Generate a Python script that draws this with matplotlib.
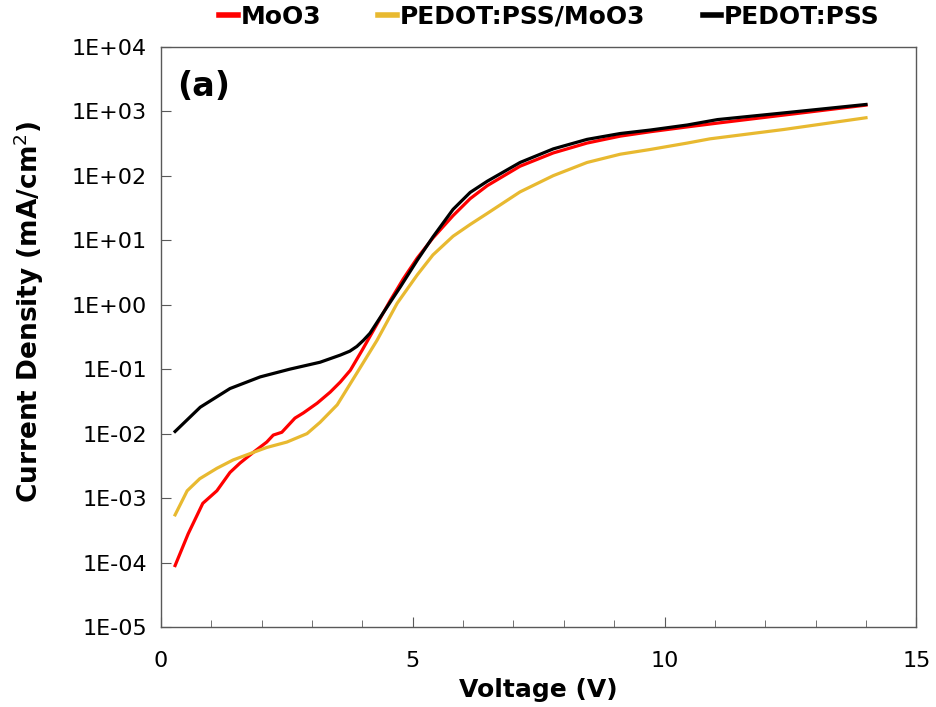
import numpy as np
import matplotlib
matplotlib.use('Agg')
import matplotlib.pyplot as plt

plt.rcParams['font.family'] = ['DejaVu Sans']

# MoO3
v_moo3 = [0.28, 0.54, 0.83, 1.11, 1.37, 1.57, 1.83, 2.1, 2.23, 2.4, 2.66, 2.83, 3.1, 3.36,
          3.56, 3.76, 4.0, 4.29, 4.55, 4.81, 5.09, 5.4, 5.8, 6.14, 6.48, 7.13, 7.79, 8.46,
          9.12, 9.72, 10.45, 11.1, 12.37, 14.0]
j_moo3 = [9e-5, 2.8e-4, 8.3e-4, 1.3e-3, 2.5e-3, 3.5e-3, 5.1e-3, 7.4e-3, 9.5e-3, 1.05e-2, 1.74e-2,
          2.1e-2, 2.96e-2, 4.4e-2, 6.3e-2, 9.6e-2, 0.2, 0.5, 1.15, 2.5, 5.3, 10.8, 24, 44, 70,
          140, 225, 320, 410, 480, 570, 660, 870, 1240]

# PEDOT:PSS/MoO3
v_pm = [0.28, 0.52, 0.77, 1.11, 1.43, 1.77, 2.1, 2.5, 2.9, 3.16, 3.5, 3.89, 4.29, 4.69,
        5.09, 5.4, 5.8, 6.14, 6.48, 7.13, 7.79, 8.46, 9.12, 9.72, 10.45, 10.9, 12.37, 14.0]
j_pm = [5.5e-4, 1.3e-3, 2.0e-3, 2.9e-3, 3.9e-3, 4.9e-3, 6.1e-3, 7.4e-3, 1.0e-2, 1.5e-2, 2.8e-2,
        8.7e-2, 0.28, 1.05, 2.9, 5.9, 11.5, 17.5, 26, 56, 100, 160, 215, 255, 320, 372, 520,
        790]

# PEDOT:PSS
v_p = [0.28, 0.78, 1.37, 1.97, 2.56, 3.16, 3.56, 3.75, 3.89, 4.02, 4.15, 4.41, 4.75, 5.09,
       5.4, 5.8, 6.14, 6.48, 7.13, 7.79, 8.46, 9.12, 9.72, 10.45, 11.05, 12.37, 14.0]
j_p = [0.0108, 0.0257, 0.050, 0.0758, 0.100, 0.128, 0.165, 0.19, 0.225, 0.28, 0.36, 0.74,
       1.87, 4.9, 11.2, 30, 55, 82, 160, 260, 365, 450, 510, 610, 740, 940, 1270]

ytick_vals = [1e-5, 1e-4, 1e-3, 1e-2, 1e-1, 1e0, 1e1, 1e2, 1e3, 1e4]
ytick_labels = ['1E-05', '1E-04', '1E-03', '1E-02', '1E-01', '1E+00', '1E+01', '1E+02',
                '1E+03', '1E+04']

fig = plt.figure(figsize=(9.36, 7.07), dpi=100)
ax = fig.add_axes([0.172, 0.113, 0.807, 0.821])

ax.plot(v_moo3, j_moo3, color='#ff0000', lw=2.3, label='MoO3')
ax.plot(v_pm, j_pm, color='#e8b930', lw=2.3, label='PEDOT:PSS/MoO3')
ax.plot(v_p, j_p, color='black', lw=2.3, label='PEDOT:PSS')

ax.set_yscale('log')
ax.set_xlim(0, 15)
ax.set_ylim(1e-5, 1e4)
ax.set_xticks([0, 5, 10, 15])
ax.set_xticks(np.arange(0, 16, 1), minor=True)
ax.set_yticks(ytick_vals)
ax.set_yticklabels(ytick_labels)
ax.yaxis.set_minor_locator(matplotlib.ticker.NullLocator())
ax.tick_params(axis='both', which='major', direction='in', labelsize=16, length=7,
               color='#595959', pad=10)
ax.tick_params(axis='x', which='major', pad=17)
ax.tick_params(axis='x', which='minor', direction='in', length=5, color='#595959')
for s in ax.spines.values():
    s.set_color('#595959')
    s.set_linewidth(1.0)

ax.set_xlabel('Voltage (V)', fontsize=18, fontweight='bold', labelpad=5)
ax.set_ylabel('Current Density (mA/cm$^2$)', fontsize=19, fontweight='bold')
ax.yaxis.set_label_coords(-0.152, 0.543)
ax.text(0.022, 0.96, '(a)', transform=ax.transAxes, fontsize=24, fontweight='bold',
        va='top', ha='left')

leg = fig.legend(loc='upper center', bbox_to_anchor=(0.587, 1.025), ncol=3, frameon=False,
                 prop={'size': 18, 'weight': 'bold'}, handlelength=0.75, handletextpad=0.1,
                 columnspacing=2.3)
for h in leg.get_lines():
    h.set_linewidth(4)

fig.savefig('out.png', dpi=100)
